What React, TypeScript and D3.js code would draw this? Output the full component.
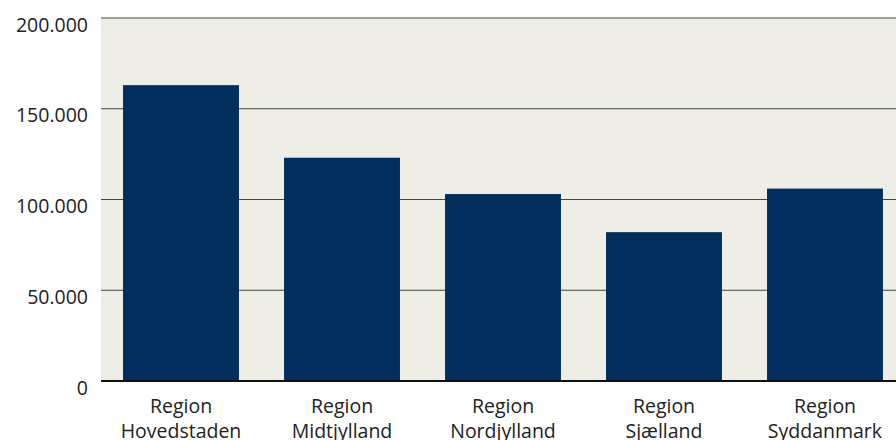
import React from "react";
import * as d3 from "d3";

const categories = [
  ["Region", "Hovedstaden"],
  ["Region", "Midtjylland"],
  ["Region", "Nordjylland"],
  ["Region", "Sjælland"],
  ["Region", "Syddanmark"],
];
const values = [163000, 123000, 103000, 82000, 106000];
const yTicks = [0, 50000, 100000, 150000, 200000];

const W = 896;
const H = 440;
const left = 101;
const top = 18;
const bottom = 381;

export default function App() {
  const x = d3
    .scaleBand<number>()
    .domain(values.map((_, i) => i))
    .range([left, 905])
    .paddingInner(0.28)
    .paddingOuter(0.137);
  const y = d3.scaleLinear().domain([0, 200000]).range([bottom, top]);
  const fmt = (v: number) => d3.format(",")(v).replace(/,/g, ".");
  const font = "'Open Sans', 'Noto Sans', sans-serif";
  return (
    <svg
      width={W}
      height={H}
      style={{ position: "absolute", left: 0, top: 0, display: "block" }}
      fontFamily={font}
    >
      <rect x={left} y={top} width={W - left} height={bottom - top} fill="#eeede6" />
      {yTicks.slice(1).map((t) => (
        <line key={t} x1={left} x2={W} y1={y(t)} y2={y(t)} stroke="#444" strokeWidth={1} />
      ))}
      {values.map((v, i) => (
        <rect
          key={i}
          x={x(i)}
          y={y(v)}
          width={x.bandwidth()}
          height={bottom - y(v)}
          fill="#022d5c"
        />
      ))}
      <line x1={left} x2={W} y1={bottom} y2={bottom} stroke="#111" strokeWidth={2} />
      {yTicks.map((t) => (
        <text
          key={t}
          x={88}
          y={y(t) + 13.5}
          textAnchor="end"
          fontSize={19.5}
          fill="#222"
        >
          {fmt(t)}
        </text>
      ))}
      {categories.map((lines, i) => (
        <text
          key={i}
          x={(x(i) as number) + x.bandwidth() / 2}
          y={413}
          textAnchor="middle"
          fontSize={19.5}
          fill="#222"
        >
          {lines.map((l, j) => (
            <tspan key={j} x={(x(i) as number) + x.bandwidth() / 2} dy={j === 0 ? 0 : 25}>
              {l}
            </tspan>
          ))}
        </text>
      ))}
    </svg>
  );
}
